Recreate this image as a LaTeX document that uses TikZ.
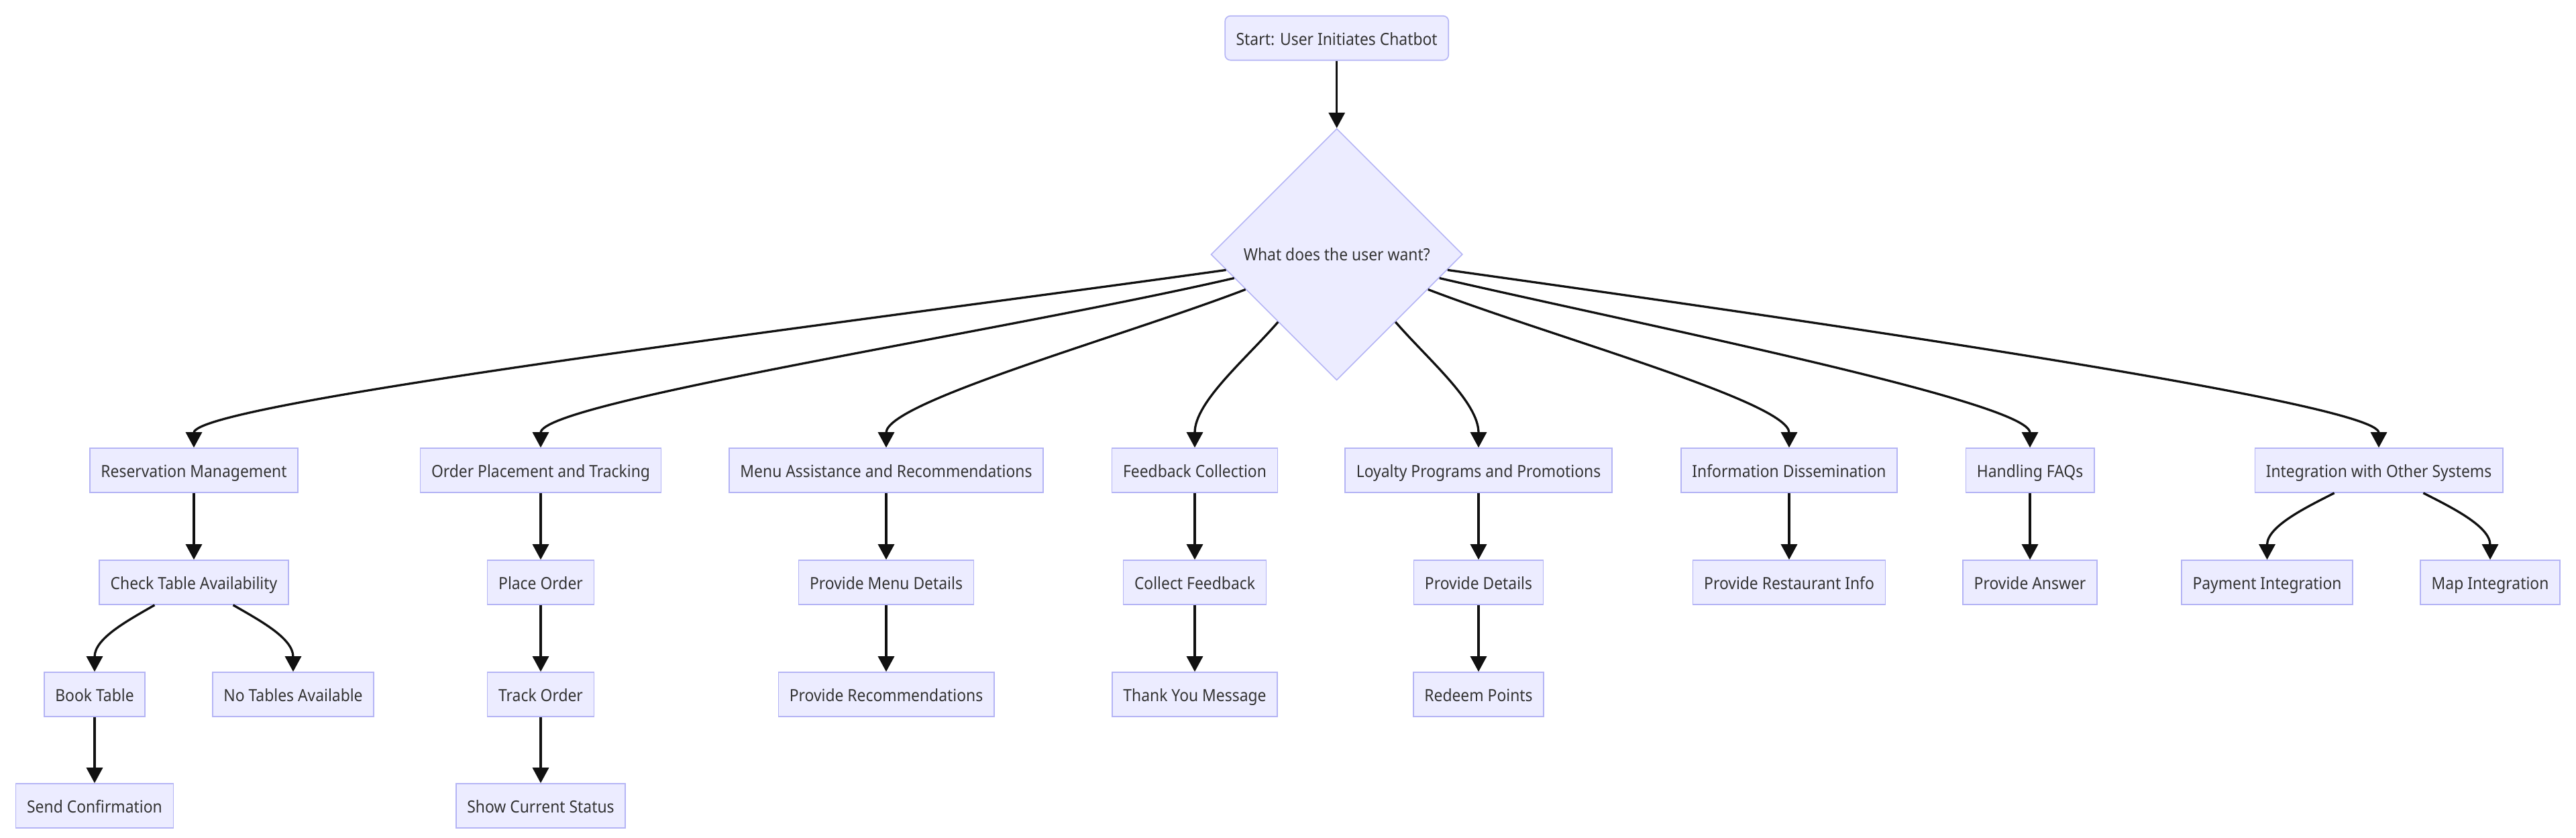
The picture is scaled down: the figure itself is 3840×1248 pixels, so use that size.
\documentclass[tikz,border=0pt]{standalone}
\usepackage{fontspec}
\setmainfont{Noto Sans}[FakeStretch=0.915]
\usetikzlibrary{arrows.meta,shapes.geometric}
\definecolor{boxfill}{HTML}{ECECFF}
\definecolor{boxline}{HTML}{B4B4F5}
\definecolor{inkline}{HTML}{111111}
\definecolor{labeltext}{HTML}{333333}
\begin{document}
\begin{tikzpicture}[x=1pt, y=1pt,
    stepbox/.style={draw=boxline, fill=boxfill, line width=1.6pt,
      minimum height=66pt, inner xsep=16.5pt, inner ysep=0pt,
      text height=24pt, text depth=2.6pt,
      text=labeltext, font=\fontsize{25}{30}\selectfont},
    choicebox/.style={diamond, aspect=1, draw=boxline, fill=boxfill,
      line width=1.6pt, minimum width=375pt, minimum height=375pt,
      inner sep=0pt, text=labeltext, font=\fontsize{25}{30}\selectfont},
    flowline/.style={draw=inkline, line width=3.3pt,
      -{Triangle[length=23pt, width=24pt]}}]
  \useasboundingbox (0,0) rectangle (3840,-1248);
  \newcommand{\flowStep}[4]{
    % draws one step box
    % args:
    %     node name
    %     x of centre
    %     y of centre (negative, going down)
    %     label
    \node[stepbox] (#1) at (#2, #3) {#4};
  }
  \newcommand{\choiceArrow}[3]{
    % args:
    %     target name
    %     angle where it leaves the diamond
    %     pull of the first control point
    \draw[flowline] (want.#2) .. controls +(#2:#3) and +(90:68) .. (#1.north);
  }
  \newcommand{\splitArrow}[3]{
    % args:
    %     from name
    %     to name
    %     angle where it leaves the box
    \draw[flowline] (#1.#3) .. controls +(#3:46) and +(90:50) .. (#2.north);
  }
  \newcommand{\stepArrow}[2]{ \draw[flowline] (#1.south) -- (#2.north); }
  % wrappers, one per row
  \newcommand{\rowOne}[3]{ \flowStep{#1}{#2}{-701}{#3} }
  \newcommand{\rowTwo}[3]{ \flowStep{#1}{#2}{-868}{#3} }
  \newcommand{\rowThree}[3]{ \flowStep{#1}{#2}{-1035}{#3} }
  \newcommand{\rowFour}[3]{ \flowStep{#1}{#2}{-1201}{#3} }
  %
  % start and the question
  \node[stepbox, rounded corners=8pt] (start) at (1992.7, -56.7) {Start: User Initiates Chatbot};
  \node[choicebox] (want) at (1992.7, -379.2) {What does the user want?};
  \stepArrow{start}{want}
  % first row: what the user wants
  \rowOne{resv}{289}{Reservation Management}
  \rowOne{order}{806}{Order Placement and Tracking}
  \rowOne{menu}{1321}{Menu Assistance and Recommendations}
  \rowOne{fdbk}{1781}{Feedback Collection}
  \rowOne{loyal}{2204}{Loyalty Programs and Promotions}
  \rowOne{info}{2667}{Information Dissemination}
  \rowOne{faqs}{3026}{Handling FAQs}
  \rowOne{integ}{3546}{Integration with Other Systems}
  % second row
  \rowTwo{check}{289}{Check Table Availability}
  \rowTwo{place}{806}{Place Order}
  \rowTwo{menudet}{1321}{Provide Menu Details}
  \rowTwo{collect}{1781}{Collect Feedback}
  \rowTwo{details}{2204}{Provide Details}
  \rowTwo{restinfo}{2667}{Provide Restaurant Info}
  \rowTwo{answer}{3026}{Provide Answer}
  \rowTwo{payment}{3379.5}{Payment Integration}
  \rowTwo{map}{3712}{Map Integration}
  % third row
  \rowThree{book}{141}{Book Table}
  \rowThree{notables}{437}{No Tables Available}
  \rowThree{track}{806}{Track Order}
  \rowThree{recomm}{1321}{Provide Recommendations}
  \rowThree{thanks}{1781}{Thank You Message}
  \rowThree{redeem}{2204}{Redeem Points}
  % fourth row
  \rowFour{confirm}{141}{Send Confirmation}
  \rowFour{status}{806}{Show Current Status}
  %
  % arrows out of the diamond
  \choiceArrow{resv}{188}{520}
  \choiceArrow{order}{193}{355}
  \choiceArrow{menu}{201}{195}
  \choiceArrow{fdbk}{229}{75}
  \choiceArrow{loyal}{311}{75}
  \choiceArrow{info}{339}{195}
  \choiceArrow{faqs}{347}{306}
  \choiceArrow{integ}{352}{473}
  % straight arrows down the columns
  \stepArrow{resv}{check}
  \stepArrow{book}{confirm}
  \stepArrow{order}{place}
  \stepArrow{place}{track}
  \stepArrow{track}{status}
  \stepArrow{menu}{menudet}
  \stepArrow{menudet}{recomm}
  \stepArrow{fdbk}{collect}
  \stepArrow{collect}{thanks}
  \stepArrow{loyal}{details}
  \stepArrow{details}{redeem}
  \stepArrow{info}{restinfo}
  \stepArrow{faqs}{answer}
  % branching arrows
  \splitArrow{check}{book}{210}
  \splitArrow{check}{notables}{330}
  \splitArrow{integ}{payment}{207}
  \splitArrow{integ}{map}{333}
\end{tikzpicture}
\end{document}
